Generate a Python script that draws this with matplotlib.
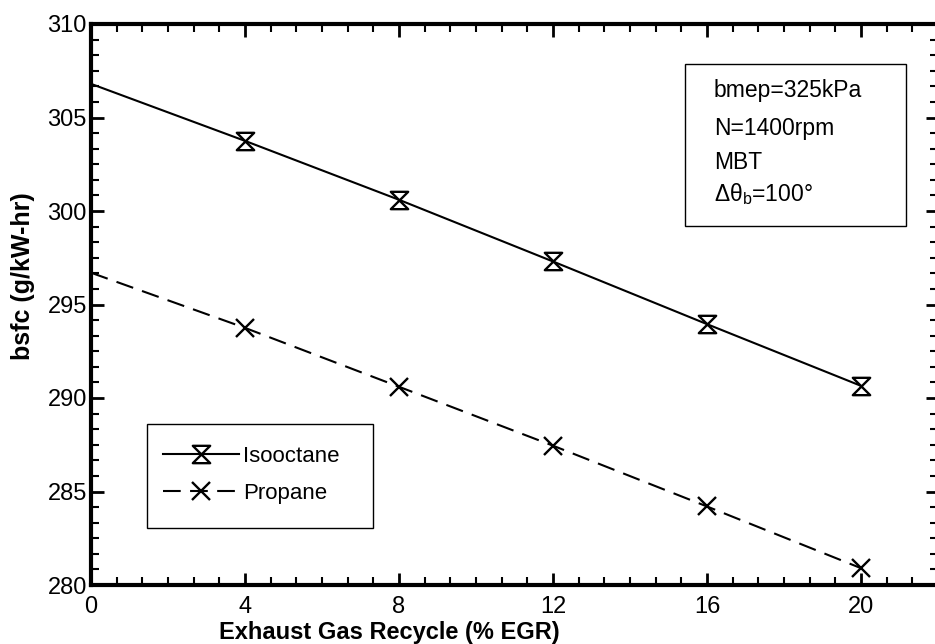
import numpy as np
import matplotlib
matplotlib.use("Agg")
import matplotlib.pyplot as plt
from matplotlib.path import Path
from matplotlib.ticker import MultipleLocator

plt.rcParams["font.family"] = ["Liberation Sans", "DejaVu Sans"]
plt.rcParams["mathtext.fontset"] = "custom"
plt.rcParams["mathtext.rm"] = "Liberation Sans"
plt.rcParams["mathtext.it"] = "Liberation Sans"

# EGR levels: curve starts at 0 %, measured points at 4..20 %
egr = [0, 4, 8, 12, 16, 20]
isooctane_bsfc = [306.8, 303.75, 300.6, 297.3, 293.95, 290.65]
propane_bsfc = [296.7, 293.75, 290.6, 287.45, 284.2, 280.9]

x_ticks = [0, 4, 8, 12, 16, 20]
y_ticks = [280, 285, 290, 295, 300, 305, 310]

conditions = ["bmep=325kPa", "N=1400rpm", "MBT", r"$\Delta\theta_{\mathrm{b}}$=100°"]

# hourglass marker: two triangles meeting at their tips
hourglass = Path([(-1, 1), (1, 1), (-1, -1), (1, -1), (-1, 1)],
                 [Path.MOVETO, Path.LINETO, Path.LINETO, Path.LINETO, Path.CLOSEPOLY])

W, H = 935, 644
fig = plt.figure(figsize=(W / 100, H / 100), dpi=100)
ax = fig.add_axes([91 / W, 59 / H, 847 / W, 561 / H])

ax.plot(egr, isooctane_bsfc, color="black", lw=1.5, marker=hourglass,
        markersize=12.5, markerfacecolor="white", markeredgewidth=1.7,
        markevery=slice(1, None), label="Isooctane")
pl, = ax.plot(egr, propane_bsfc, color="black", lw=1.5, marker="x",
              markersize=12.5, markeredgewidth=1.7,
              markevery=slice(1, None), label="Propane")
pl.set_dashes([8.5, 4.5])

ax.set_xlim(0, 22)
ax.set_ylim(280, 310)
ax.set_xticks(x_ticks)
ax.set_yticks(y_ticks)
ax.xaxis.set_minor_locator(MultipleLocator(4 / 6))
ax.yaxis.set_minor_locator(MultipleLocator(5 / 6))
ax.tick_params(which="both", direction="in", top=True, right=True,
               labelsize=17, color="black")
ax.tick_params(which="major", length=9, width=2)
ax.tick_params(which="minor", length=5.5, width=1.5)
ax.tick_params(axis="x", pad=8)
ax.tick_params(axis="y", pad=3)

for s in ax.spines.values():
    s.set_linewidth(3)

ax.set_xlabel("Exhaust Gas Recycle (% EGR)", fontsize=17, fontweight="bold")
ax.xaxis.set_label_coords((389 - 91) / 847, -(632 - 585) / 561)
ax.xaxis.label.set_va("center")
ax.set_ylabel("bsfc (g/kW-hr)", fontsize=18, fontweight="bold")
ax.yaxis.set_label_coords(-(91 - 23) / 847, (585 - 276) / 561)
ax.yaxis.label.set_va("center")

# legend entries without frame, boxed separately
leg = ax.legend(loc="upper left", bbox_to_anchor=(163 / W, 1 - 446 / H),
                bbox_transform=fig.transFigure,
                fontsize=16, frameon=False,
                handlelength=3.4, handletextpad=0.2,
                labelspacing=0.7, borderpad=0, borderaxespad=0)
fig.add_artist(plt.Rectangle((147 / W, 1 - 528 / H), (373 - 147) / W, (528 - 424) / H,
                             transform=fig.transFigure, fill=False,
                             edgecolor="black", lw=1.0))

# operating-condition box
fig.add_artist(plt.Rectangle((685 / W, 1 - 226 / H), (906 - 685) / W, (226 - 64) / H,
                             transform=fig.transFigure, fill=False,
                             edgecolor="black", lw=1.0))
line_y = [90, 128, 163, 194]
for txt, yy in zip(conditions, line_y):
    fig.text(714 / W, 1 - yy / H, txt, fontsize=16.5, va="center", ha="left")

fig.savefig("out.png", dpi=100)
